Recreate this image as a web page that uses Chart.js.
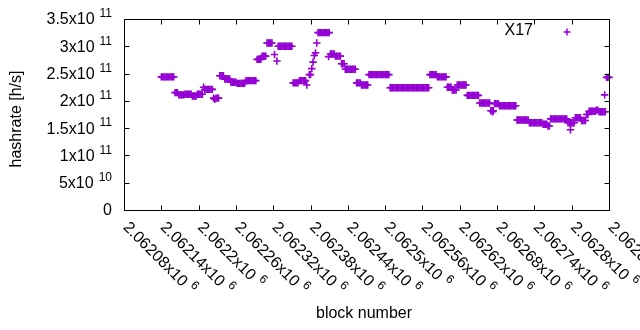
<!DOCTYPE html>
<html>
<head>
<meta charset="utf-8">
<script src="https://cdn.jsdelivr.net/npm/chart.js@4.4.1/dist/chart.umd.min.js"></script>
<style>
    body { margin: 0; background: #fff; }
    #chart { display: block; }
</style>
</head>
<body>
<canvas id="chart" width="640" height="330"></canvas>
<script>
// block of the first sample and block distance between samples
var firstBlock = 2062140;
var blockStep = 2;

// hashrate per sample, in 1e9 h/s (null = no sample there)
var hashrate = [
    244, 244, 244, 244, 244, 244, 244, 244, 244, 244, 244,
    215, 215, 215,
    211, 211, 211, 211, 211,
    212, 212, 212, 212, 212, 212,
    209, 209, 209, 209,
    212, 212, 212, 212, 212,
    225,
    221, 221, 221, 221, 221, 221, 221,
    205, 203, 205, 205, 205,
    246, 246, 246, 246,
    240, 240, 240, 240, 240,
    234, 234, 234, 234, 234,
    232, 232, 232, 232, 232, 232, 232,
    237, 237, 237, 237, 237, 237, 237, 237, 237,
    276, 276, 276, 276,
    282, 282, 282, 282,
    306, 306, 306, 306, 306,
    null, 285, null, 273,
    300, 300, 300, 300, 300, 300, 300, 300, 300, 300, 300, 300,
    233, 233, 233, 233, 233,
    237, 237, 237, 237, 237, 237,
    229, null,
    248, 248, 259, 271, 283, 288, 306,
    325, 325, 325, 325, 325, 325, 325, 325, 325, 325,
    286, 286, 286, 286,
    282, 282, 282, 282, 282,
    268, 268, 268,
    258, 258, 258, 258, 258, 258, 258, 258, 258,
    233, 233, 233, 233,
    229, 229, 229, 229, 229, 229,
    248, 248, 248, 248, 248, 248, 248, 248, 248, 248, 248, 248, 248, 248, 248, 248, 248,
    224, 224, 224, 224, 224, 224, 224, 224, 224, 224, 224, 224, 224, 224, 224, 224,
    224, 224, 224, 224, 224, 224, 224, 224, 224, 224, 224, 224, 224, 224, 224, 224,
    248, 248, 248, 248, 248, 248,
    244, 244, 244, 244, 244, 244, 244, 244,
    225, 225, 225, 225,
    220, 220, 220, 220,
    229, 229, 229, 229, 229, 229, 229, 229,
    210, 210, 210, 210, 210, 210, 210, 210, 210, 210,
    196, 196, 196, 196, 196, 196, 196, 196, 196,
    182, 182, 182,
    195, 195, 195, 195,
    191, 191, 191, 191, 191, 191, 191, 191, 191, 191, 191, 191, 191, 191,
    165, 165, 165, 165, 165, 165, 165, 165, 165, 165,
    160, 160, 160, 160, 160, 160, 160, 160, 160, 160, 160,
    157, 157, 157, 157,
    154, 154,
    167, 167, 167, 167, 167, 167, 167, 167, 167, 167, 167, 167, 167, 167,
    160, 160, 160, 160, 160, 160,
    169, 169, 169, 169, 169,
    164, 164, 164, 164,
    175, 175,
    181, 181, 181, 181, 181, 181,
    183, 183,
    180, 180, 180, 180, 180, 180,
    243, 243, 243
];

// stray samples that sit off the runs
var strayBlocks = [2062409, 2062673, 2062798, 2062853];
var strayHashrate = [281, 180, 147, 211];

var seriesName = 'X17';

// axis ticks and their labels (mantissa, exponent)
var xTicks = [2062080, 2062140, 2062200, 2062260, 2062320, 2062380, 2062440,
    2062500, 2062560, 2062620, 2062680, 2062740, 2062800, 2062860];
var xTickText = ['2.06208', '2.06214', '2.0622', '2.06226', '2.06232', '2.06238', '2.06244',
    '2.0625', '2.06256', '2.06262', '2.06268', '2.06274', '2.0628', '2.06286'];
var yTicks = [0, 0.5e11, 1e11, 1.5e11, 2e11, 2.5e11, 3e11, 3.5e11];
var yTickText = ['0', '5x10', '1x10', '1.5x10', '2x10', '2.5x10', '3x10', '3.5x10'];
var yTickExp = ['', '10', '11', '11', '11', '11', '11', '11'];

var purple = '#9400d3';
var mainFont = '16px "Liberation Sans", Arial, sans-serif';
var supFont = '12px "Liberation Sans", Arial, sans-serif';

var points = [];
hashrate.forEach(function (v, i) {
    if (v !== null) points.push({ x: firstBlock + i * blockStep, y: v * 1e9 });
});
strayBlocks.forEach(function (b, i) {
    points.push({ x: b, y: strayHashrate[i] * 1e9 });
});

// gnuplot look: closed border, inward ticks, x10^n labels, key
var gnuplotFrame = {
    id: 'gnuplotFrame',
    afterDraw: function (chart) {
        var ctx = chart.ctx;
        var a = chart.chartArea;
        var xs = chart.scales.x, ys = chart.scales.y;
        var tickLen = 5;
        ctx.save();
        ctx.strokeStyle = '#000';
        ctx.lineWidth = 1;
        ctx.beginPath();
        ctx.rect(a.left + 0.5, a.top + 0.5, a.right - a.left, a.bottom - a.top);
        xTicks.forEach(function (v) {
            var x = Math.round(xs.getPixelForValue(v)) + 0.5;
            ctx.moveTo(x, a.bottom + 0.5); ctx.lineTo(x, a.bottom + 0.5 - tickLen);
            ctx.moveTo(x, a.top + 0.5); ctx.lineTo(x, a.top + 0.5 + tickLen);
        });
        yTicks.forEach(function (v) {
            var y = Math.round(ys.getPixelForValue(v)) + 0.5;
            ctx.moveTo(a.left + 0.5, y); ctx.lineTo(a.left + 0.5 + tickLen, y);
            ctx.moveTo(a.right + 0.5, y); ctx.lineTo(a.right + 0.5 - tickLen, y);
        });
        ctx.stroke();

        ctx.fillStyle = '#000';
        ctx.textBaseline = 'middle';
        ctx.textAlign = 'left';

        // y labels, right aligned
        yTicks.forEach(function (v, i) {
            var y = ys.getPixelForValue(v);
            var m = yTickText[i], e = yTickExp[i];
            ctx.font = mainFont;
            var w1 = ctx.measureText(m).width;
            ctx.font = supFont;
            var w2 = e ? ctx.measureText(e).width : 0;
            var gap = e ? 5 : 0;
            var x0 = a.left - 12 - w2 - gap - w1;
            ctx.font = mainFont;
            ctx.fillText(m, x0, y + 1);
            if (e) {
                ctx.font = supFont;
                ctx.fillText(e, x0 + w1 + gap, y - 5);
            }
        });

        // x labels, rotated
        xTicks.forEach(function (v, i) {
            var x = xs.getPixelForValue(v);
            ctx.save();
            ctx.translate(x + 1.5, a.bottom + 15);
            ctx.rotate(Math.PI / 4);
            ctx.font = mainFont;
            var m = xTickText[i] + 'x10';
            var w1 = ctx.measureText(m).width;
            ctx.fillText(m, 0, 0);
            ctx.font = supFont;
            ctx.fillText('6', w1 + 5, -6);
            ctx.restore();
        });

        // axis titles
        ctx.font = mainFont;
        ctx.textAlign = 'center';
        ctx.fillText('block number', 364, 314);
        ctx.save();
        ctx.translate(17, 119);
        ctx.rotate(-Math.PI / 2);
        ctx.fillText('hashrate [h/s]', 0, 0);
        ctx.restore();

        // key
        ctx.textAlign = 'right';
        ctx.fillText(seriesName, 533, 31);
        ctx.strokeStyle = purple;
        ctx.lineWidth = 1.5;
        ctx.beginPath();
        ctx.moveTo(563.5, 32); ctx.lineTo(570.5, 32);
        ctx.moveTo(567, 28.5); ctx.lineTo(567, 35.5);
        ctx.stroke();
        ctx.restore();
    }
};

var ctx = document.getElementById('chart').getContext('2d');
var chart = new Chart(ctx, {
    type: 'scatter',
    data: {
        datasets: [{
            label: seriesName,
            data: points,
            pointStyle: 'cross',
            pointRadius: 3.7,
            borderColor: purple,
            backgroundColor: purple,
            borderWidth: 1.6,
            showLine: false,
            clip: false
        }]
    },
    options: {
        responsive: false,
        animation: false,
        events: [],
        layout: { padding: { left: 124, right: 31, top: 19, bottom: 120 } },
        plugins: {
            legend: { display: false },
            tooltip: { enabled: false }
        },
        scales: {
            x: { type: 'linear', display: false, min: 2062080, max: 2062860 },
            y: { type: 'linear', display: false, min: 0, max: 3.5e11 }
        }
    },
    plugins: [gnuplotFrame]
});
</script>
</body>
</html>
